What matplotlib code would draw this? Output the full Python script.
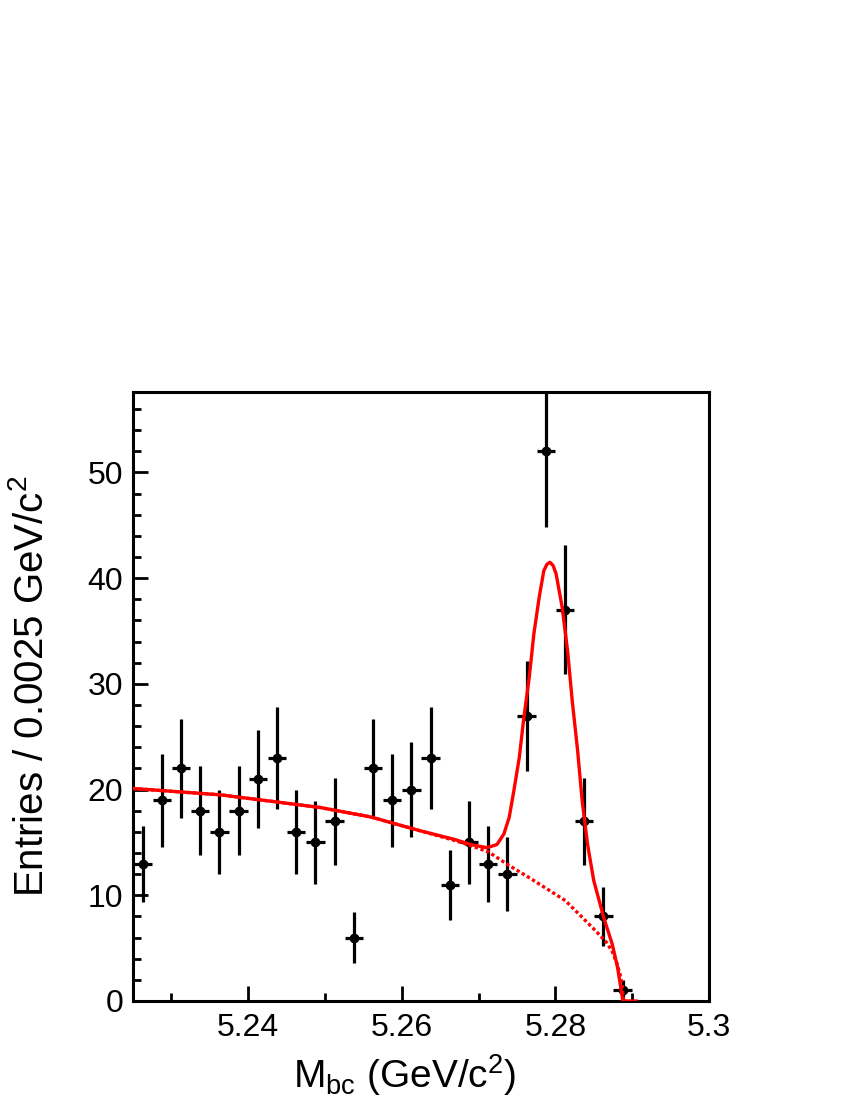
import matplotlib.pyplot as plt
from matplotlib.ticker import MultipleLocator

plt.rcParams['font.family'] = ['Liberation Sans', 'DejaVu Sans']

# Mbc histogram, bins of 0.0025 GeV/c^2
bin_centers = [5.22625, 5.22875, 5.23125, 5.23375, 5.23625, 5.23875, 5.24125,
               5.24375, 5.24625, 5.24875, 5.25125, 5.25375, 5.25625, 5.25875,
               5.26125, 5.26375, 5.26625, 5.26875, 5.27125, 5.27375, 5.27625,
               5.27875, 5.28125, 5.28375, 5.28625, 5.28875]
entries = [13, 19, 22, 18, 16, 18, 21, 23, 16, 15, 17, 6, 22, 19, 20, 23,
           11, 15, 13, 12, 27, 52, 37, 17, 8, 1]
errors = [3.6, 4.4, 4.7, 4.2, 4.0, 4.2, 4.6, 4.8, 4.0, 3.9, 4.1, 2.4, 4.7,
          4.4, 4.5, 4.8, 3.3, 3.9, 3.6, 3.5, 5.2, 7.2, 6.1, 4.1, 2.8, 1.0]
half_bin = 0.0012

# background curve (dotted)
bkg_x = [5.2250, 5.2364, 5.2494, 5.2560, 5.2624, 5.2668, 5.2690, 5.2713,
         5.2738, 5.2763, 5.2787, 5.2813, 5.2831, 5.2853, 5.2866, 5.2874,
         5.2880, 5.2884, 5.2887, 5.2889]
bkg_y = [20.1, 19.5, 18.3, 17.4, 16.1, 15.2, 14.7, 14.1,
         12.9, 11.8, 10.7, 9.5, 8.2, 6.6, 5.6, 4.7,
         3.6, 2.6, 1.5, 0.0]

# total fit curve (solid)
tot_x = [5.2250, 5.2364, 5.2494, 5.2560, 5.2624, 5.2668, 5.2690, 5.2711,
         5.2724, 5.2733, 5.2740, 5.2746, 5.2753, 5.2759, 5.2766, 5.2772,
         5.2779, 5.2785, 5.2789, 5.2793, 5.2797, 5.2801, 5.2809, 5.2816,
         5.2822, 5.2829, 5.2835, 5.2842, 5.2850, 5.2863, 5.2874, 5.2881,
         5.2888, 5.2905]
tot_y = [20.1, 19.5, 18.3, 17.4, 16.1, 15.3, 14.8, 14.5,
         14.8, 15.8, 17.4, 19.9, 23.0, 26.8, 30.6, 34.7,
         38.2, 40.7, 41.3, 41.5, 41.2, 40.4, 37.2, 33.1,
         28.4, 23.7, 18.9, 14.8, 11.4, 7.9, 5.4, 3.2,
         0.0, 0.0]

fig = plt.figure(figsize=(8.5, 11), dpi=100)
ax = fig.add_axes([0.1565, 0.09, 0.6775, 0.5536])

ax.errorbar(bin_centers, entries, yerr=errors, xerr=half_bin, fmt='o', color='black',
            markersize=6, elinewidth=2.3, capsize=0, zorder=2)
ax.plot(bkg_x, bkg_y, color='red', lw=2.4, ls=(0, (1, 0.8)), zorder=3)
ax.plot(tot_x, tot_y, color='red', lw=2.4, zorder=4)

ax.set_xlim(5.225, 5.3)
ax.set_ylim(0, 57.6)

ax.xaxis.set_minor_locator(MultipleLocator(0.01))
ax.yaxis.set_major_locator(MultipleLocator(10))
ax.yaxis.set_minor_locator(MultipleLocator(2))
ax.set_xticks([5.24, 5.26, 5.28, 5.3])
ax.set_xticklabels(['5.24', '5.26', '5.28', '5.3'])

ax.tick_params(which='both', direction='in', top=False, right=False, width=2)
ax.tick_params(which='major', length=11, labelsize=23)
ax.tick_params(axis='x', which='major', pad=9)
ax.tick_params(axis='y', which='major', pad=7)
ax.tick_params(which='minor', length=6)
for sp in ax.spines.values():
    sp.set_linewidth(2.2)

fig.text(0.476, 0.011, r'M$_{\mathregular{bc}}$ (GeV/c$^{\mathregular{2}}$)',
         fontsize=28, ha='center', va='baseline')
fig.text(32 / 850, 0.376, r'Entries / 0.0025 GeV/c$^{\mathregular{2}}$',
         fontsize=29, rotation=90, ha='center', va='center')

fig.savefig('out.png', dpi=100)
